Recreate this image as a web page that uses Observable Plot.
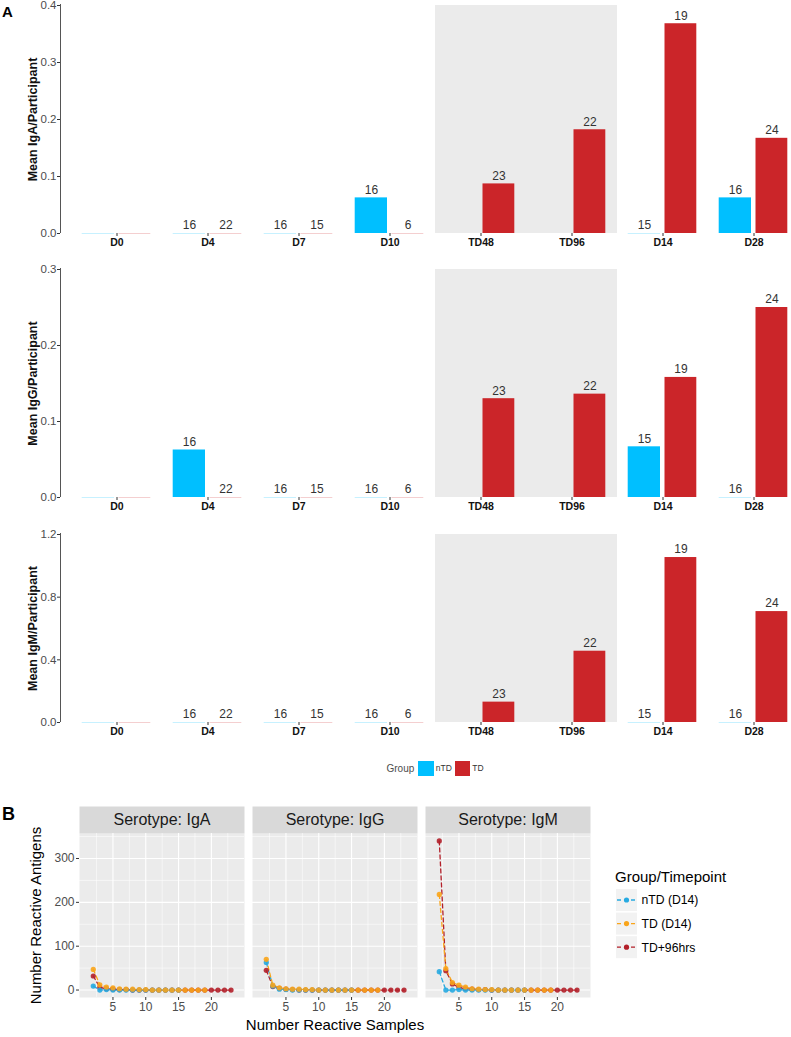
<!DOCTYPE html>
<html><head><meta charset="utf-8">
<script src="https://cdn.jsdelivr.net/npm/d3@7"></script>
<script src="https://cdn.jsdelivr.net/npm/@observablehq/plot@0.6"></script>
<style>
body{margin:0;background:#fff;font-family:"Liberation Sans",Arial,sans-serif;overflow:hidden}
#root{position:relative;width:791px;height:1037px;overflow:hidden}
.abs{position:absolute}
</style></head><body><div id="root"></div>
<script>
// ---------- Panel A data ----------
const categories = ["D0","D4","D7","D10","TD48","TD96","D14","D28"];
const groups = ["nTD","TD"];
const groupColors = ["#00BFFF","#CB2529"];
const shadedCats = ["TD48","TD96"];
const nLabelNTD = [null,16,16,16,null,null,15,16];
const nLabelTD  = [null,22,15,6,23,22,19,24];
const igaNTD = [0,0,0,0.0625,null,null,0,0.0625];
const igaTD  = [0,0,0,0,0.087,0.182,0.368,0.167];
const iggNTD = [0,0.0625,0,0,null,null,0.0667,0];
const iggTD  = [0,0,0,0,0.130,0.136,0.158,0.250];
const igmNTD = [0,0,0,0,null,null,0,0];
const igmTD  = [0,0,0,0,0.130,0.455,1.053,0.708];

// ---------- Panel B data ----------
const serotypes = ["IgA","IgG","IgM"];
const seriesNames = ["nTD (D14)","TD (D14)","TD+96hrs"];
const seriesColors = ["#27AAE1","#F9A51B","#B3202A"];
const samplesNTD = [2,3,4,5,6,7,8,9,10,11,12,13,14,15];
const samplesTD  = [2,3,4,5,6,7,8,9,10,11,12,13,14,15,16,17,18,19];
const samples96  = [2,3,4,5,6,7,8,9,10,11,12,13,14,15,16,17,18,19,20,21,22,23];
const igaAgNTD = [9,0,1,0,0,0,0,0,0,0,0,0,0,0];
const igaAgTD  = [47,12,7,5,3,2,2,1,1,0,0,0,0,0,0,0,0,0];
const igaAg96  = [32,6,3,2,1,1,0,0,0,0,0,0,0,0,0,0,0,0,0,0,0,0];
const iggAgNTD = [63,9,2,1,0,0,0,0,0,0,0,0,0,0];
const iggAgTD  = [70,11,5,3,2,2,1,1,0,0,0,0,0,0,0,0,0,0];
const iggAg96  = [45,8,4,2,1,0,0,0,0,0,0,0,0,0,0,0,0,0,0,0,0,0];
const igmAgNTD = [42,0,0,1,0,0,0,0,0,0,0,0,0,0];
const igmAgTD  = [218,49,17,11,7,3,2,1,1,0,0,0,0,0,0,0,0,0];
const igmAg96  = [340,44,14,6,3,2,1,1,0,0,0,0,0,0,0,0,0,0,0,0,0,0];

const root = document.getElementById("root");
const FONT = "Liberation Sans, Arial, Helvetica, sans-serif";

function place(node, left, top) {
  node.classList.add("abs");
  node.style.left = left + "px";
  node.style.top = top + "px";
  root.appendChild(node);
}

function barPanel(ntdVals, tdVals, yMax, ticks, title, top, plotH) {
  const rows = [];
  categories.forEach((c, i) => {
    rows.push({cat: c, group: "nTD", value: ntdVals[i], n: nLabelNTD[i]});
    rows.push({cat: c, group: "TD", value: tdVals[i], n: nLabelTD[i]});
  });
  const valid = rows.filter(d => d.value != null);
  const inset = {nTD: {insetLeft: 10.7, insetRight: 48}, TD: {insetLeft: 47.5, insetRight: 11.7}};
  const labelDx = {nTD: -18.5, TD: 18};
  const col = {nTD: groupColors[0], TD: groupColors[1]};
  const marks = [
    Plot.barY(shadedCats, {x: d => d, y1: 0, y2: yMax, fill: "#ebebeb"}),
    ...groups.map(g => Plot.tickY(valid.filter(d => d.group === g && d.value === 0),
      {x: "cat", y: "value", stroke: col[g], strokeOpacity: 0.22, strokeWidth: 1, ...inset[g]})),
    ...groups.map(g => Plot.barY(valid.filter(d => d.group === g && d.value > 0),
      {x: "cat", y: "value", fill: col[g], ...inset[g]})),
    ...groups.map(g => Plot.text(valid.filter(d => d.group === g && d.n != null),
      {x: "cat", y: "value", text: d => String(d.n), dx: labelDx[g], dy: -8, fontSize: 12, fill: "#333"})),
    Plot.axisX({tickSize: 3, tickPadding: 2.5, fontWeight: "bold", fontSize: 10.5, label: null, stroke: "#333", fill: "#111"}),
    Plot.axisY({ticks, tickFormat: d3.format(".1f"), tickSize: 3, tickPadding: 1, fontSize: 11.5, label: null, stroke: "#333", fill: "#4d4d4d"}),
    (index, scales, values, dimensions) => {
      const l = d3.create("svg:line")
        .attr("x1", dimensions.marginLeft + 0.5).attr("x2", dimensions.marginLeft + 0.5)
        .attr("y1", scales.y(yMax) - 1).attr("y2", scales.y(0))
        .attr("stroke", "#555").attr("stroke-width", 1);
      return l.node();
    },
    Plot.text([title], {frameAnchor: "left", textAnchor: "middle", lineAnchor: "middle", rotate: -90, dx: -28, fontWeight: "bold", fontSize: 12.5, fill: "#111"})
  ];
  const chart = Plot.plot({
    width: 791, height: 5 + plotH + 19,
    marginTop: 5, marginBottom: 19, marginLeft: 60, marginRight: 0,
    style: {fontFamily: FONT, background: "transparent", overflow: "visible"},
    x: {domain: categories, range: [69.3, 800.7], padding: 0},
    y: {domain: [0, yMax]},
    marks
  });
  place(chart, 0, top - 5);
}

barPanel(igaNTD, igaTD, 0.4, [0, 0.1, 0.2, 0.3, 0.4], "Mean IgA/Participant", 5, 228);
barPanel(iggNTD, iggTD, 0.3, [0, 0.1, 0.2, 0.3], "Mean IgG/Participant", 269, 228);
barPanel(igmNTD, igmTD, 1.2, [0, 0.4, 0.8, 1.2], "Mean IgM/Participant", 534, 188);

// Panel labels
function label(txt, left, top, size) {
  const d = document.createElement("div");
  d.textContent = txt;
  d.style.font = `bold ${size}px ${FONT}`;
  d.style.color = "#000";
  place(d, left, top);
}
label("A", 2, 3, 15);
label("B", 2, 804, 18);

// Panel A legend
(function () {
  const wrap = document.createElement("div");
  wrap.style.display = "flex";
  wrap.style.alignItems = "center";
  wrap.style.font = `10px ${FONT}`;
  wrap.style.color = "#4d4d4d";
  const t = document.createElement("span");
  t.textContent = "Group";
  t.style.marginRight = "4px";
  wrap.appendChild(t);
  groups.forEach((g, i) => {
    const sw = document.createElement("span");
    sw.style.cssText = `display:inline-block;width:15.5px;height:15px;background:${groupColors[i]};margin-right:2px`;
    wrap.appendChild(sw);
    const s = document.createElement("span");
    s.textContent = g;
    s.style.fontSize = "8.5px";
    s.style.color = "#333";
    s.style.marginRight = "3px";
    wrap.appendChild(s);
  });
  place(wrap, 386.5, 760.5);
})();

// ---------- Panel B ----------
const agRows = [];
function addSeries(sero, name, xs, ys) {
  xs.forEach((x, i) => agRows.push({sero, series: name, x, y: ys[i]}));
}
addSeries("IgA", seriesNames[2], samples96, igaAg96);
addSeries("IgA", seriesNames[0], samplesNTD, igaAgNTD);
addSeries("IgA", seriesNames[1], samplesTD, igaAgTD);
addSeries("IgG", seriesNames[2], samples96, iggAg96);
addSeries("IgG", seriesNames[0], samplesNTD, iggAgNTD);
addSeries("IgG", seriesNames[1], samplesTD, iggAgTD);
addSeries("IgM", seriesNames[2], samples96, igmAg96);
addSeries("IgM", seriesNames[0], samplesNTD, igmAgNTD);
addSeries("IgM", seriesNames[1], samplesTD, igmAgTD);

const xTitle = [{sero: "IgG", t: "Number Reactive Samples"}];
const yTitle = [{sero: "IgA", t: "Number Reactive Antigens"}];

const chartB = Plot.plot({
  width: 600, height: 232,
  marginTop: 28, marginBottom: 40, marginLeft: 78, marginRight: 8.3,
  style: {fontFamily: FONT, background: "transparent", overflow: "visible"},
  fx: {domain: serotypes, range: [78, 591.7], paddingInner: 0.045, paddingOuter: 0, axis: null},
  x: {domain: [-0.1, 25.05]},
  y: {domain: [-17, 357]},
  color: {domain: seriesNames, range: seriesColors},
  marks: [
    Plot.frame({fill: "#ebebeb"}),
    Plot.frame({fill: "#d9d9d9", insetTop: -27, insetBottom: 164}),
    Plot.gridX([2.5, 7.5, 12.5, 17.5, 22.5], {stroke: "white", strokeOpacity: 1, strokeWidth: 0.55}),
    Plot.gridY([50, 150, 250, 350], {stroke: "white", strokeOpacity: 1, strokeWidth: 0.55}),
    Plot.gridX([5, 10, 15, 20], {stroke: "white", strokeOpacity: 1, strokeWidth: 1.1}),
    Plot.gridY([0, 100, 200, 300], {stroke: "white", strokeOpacity: 1, strokeWidth: 1.1}),
    Plot.line(agRows, {fx: "sero", x: "x", y: "y", z: "series", stroke: "series", strokeDasharray: "4,3", strokeWidth: 1.3}),
    Plot.dot(agRows, {fx: "sero", x: "x", y: "y", fill: "series", r: 2.6, fillOpacity: 0.9}),
    Plot.text(serotypes, {fx: d => d, text: d => "Serotype: " + d, frameAnchor: "top", lineAnchor: "middle", dy: -13.5, fontSize: 16, fill: "#1a1a1a"}),
    Plot.axisX({ticks: [5, 10, 15, 20], tickSize: 3, tickPadding: 2, fontSize: 12, label: null, stroke: "#333", fill: "#4d4d4d"}),
    Plot.axisY({ticks: [0, 100, 200, 300], tickSize: 3, tickPadding: 2, fontSize: 12, label: null, stroke: "#333", fill: "#4d4d4d"}),
    Plot.text(xTitle, {fx: "sero", text: "t", frameAnchor: "bottom", textAnchor: "middle", lineAnchor: "middle", dy: 28, fontSize: 15, fill: "#000"}),
    Plot.text(yTitle, {fx: "sero", text: "t", frameAnchor: "left", textAnchor: "middle", lineAnchor: "middle", rotate: -90, dx: -43, fontSize: 15, fill: "#000"})
  ]
});
place(chartB, 0, 805);

// Panel B legend
(function () {
  const w = 170, h = 110;
  const svg = d3.create("svg").attr("width", w).attr("height", h).style("font-family", FONT);
  svg.append("text").attr("x", 3).attr("y", 20).attr("font-size", 15).attr("fill", "#000").text("Group/Timepoint");
  seriesNames.forEach((s, i) => {
    const cy = 38 + i * 23.6;
    svg.append("rect").attr("x", 4).attr("y", cy - 11).attr("width", 21).attr("height", 22).attr("fill", "#f2f2f2");
    svg.append("line").attr("x1", 5).attr("x2", 24).attr("y1", cy).attr("y2", cy)
      .attr("stroke", seriesColors[i]).attr("stroke-width", 1.3).attr("stroke-dasharray", "4,3");
    svg.append("circle").attr("cx", 14.5).attr("cy", cy).attr("r", 2.6).attr("fill", seriesColors[i]);
    svg.append("text").attr("x", 29.5).attr("y", cy + 4.3).attr("font-size", 12.2).attr("fill", "#000").text(s);
  });
  place(svg.node(), 612, 862);
})();
</script></body></html>
